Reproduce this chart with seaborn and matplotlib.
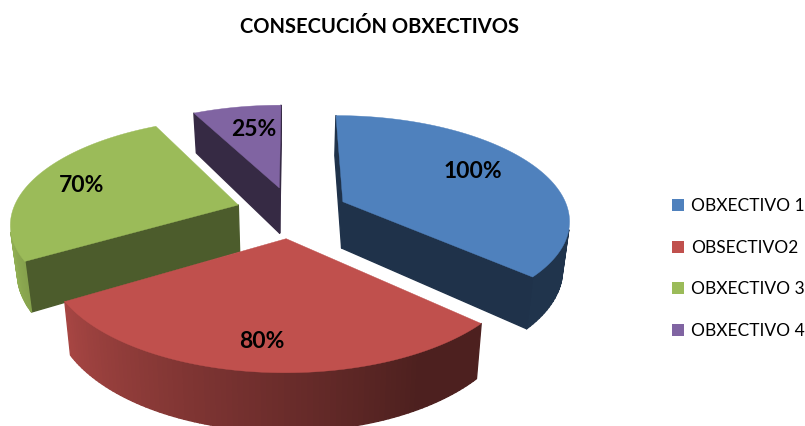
#!/usr/bin/env python3
# Exploded 3D pie drawn as projected polygons
import matplotlib
matplotlib.use('Agg')
import matplotlib.pyplot as plt
import numpy as np
import seaborn as sns
from matplotlib.collections import PolyCollection
from matplotlib.lines import Line2D

title = 'CONSECUCIÓN OBXECTIVOS'
categories = ['OBXECTIVO 1', 'OBSECTIVO2', 'OBXECTIVO 3', 'OBXECTIVO 4']
values = [100, 80, 70, 25]
colors = ['#4F81BD', '#C0504D', '#9BBB59', '#8064A2']

# projection, in pixels of the final image
cx, cy = 292, 212
rad_x, rad_y = 226, 103
persp = 0.16
depth = 47
bottom_shrink = 0.975
explode = 0.25
# the camera skews the slice edges a little, in degrees
edge_skew = [0, 1.5, 3.4, 5.7, 0]
# darkening of the flat cut faces of each slice
cut_shade = [0.39, 0.45, 0.49, 0.42]
label_pos = [(473, 171.5), (262, 341.5), (82, 185), (254, 129)]


def project(x, y, bottom=False):
    w = 1 + persp * y
    sx = rad_x * x / w
    sy = -rad_y * y / w
    if bottom:
        return cx + sx * bottom_shrink, cy + sy + depth / w
    return cx + sx, cy + sy


def wall_shade(theta):
    return np.interp(theta, [100, 150, 235, 270], [0.4, 0.4, 0.85, 1.0])


def shaded(color, factor):
    return tuple(np.array(matplotlib.colors.to_rgb(color)) * factor)


def signed_area(quad):
    q = np.array(quad)
    x, y = q[:, 0], q[:, 1]
    return 0.5 * np.sum(x * np.roll(y, -1) - np.roll(x, -1) * y)


def draw_slice(ax, start, stop, color, cut):
    mid = np.radians((start + stop) / 2)
    ox, oy = explode * np.sin(mid), explode * np.cos(mid)
    th = np.linspace(start, stop, 90)
    rx = ox + np.sin(np.radians(th))
    ry = oy + np.cos(np.radians(th))

    # ring of points around the wedge, clockwise seen from above
    ring_x = np.r_[ox, rx]
    ring_y = np.r_[oy, ry]
    top = [project(a, b) for a, b in zip(ring_x, ring_y)]
    low = [project(a, b, True) for a, b in zip(ring_x, ring_y)]

    polys, faces = [], []
    n = len(top)
    for i in range(n):
        j = (i + 1) % n
        quad = [top[i], top[j], low[j], low[i]]
        # keep only the faces turned to the viewer
        if signed_area(quad) >= 0:
            continue
        if i == 0 or j == 0:
            face = shaded(color, cut)
        else:
            face = shaded(color, wall_shade(th[i - 1]))
        polys.append(quad)
        faces.append(face)
    ax.add_collection(PolyCollection(polys, facecolors=faces, edgecolors=faces,
                                     linewidths=1.0))
    ax.fill(*zip(*top), color=color, lw=0.3)


if __name__ == '__main__':
    sns.set_theme(style='white')
    plt.rcParams['font.family'] = ['Lato', 'DejaVu Sans']

    f = plt.figure(figsize=(8.05, 4.26), dpi=100)
    ax = f.add_axes([0, 0, 1, 1])
    ax.set_xlim(0, 805)
    ax.set_ylim(426, 0)
    ax.axis('off')

    palette = sns.color_palette(colors)
    edges = np.r_[0, np.cumsum(values)] / sum(values) * 360 + edge_skew

    # back slices first
    for i in [3, 2, 0, 1]:
        draw_slice(ax, edges[i], edges[i + 1], palette[i], cut_shade[i])

    for v, pos in zip(values, label_pos):
        ax.text(pos[0], pos[1], f'{v}%', ha='center', va='center',
                fontsize=16.5, fontweight='bold', color='black')

    ax.text(379, 27, title, ha='center', va='center', fontsize=14.5,
            fontweight='bold', color='black')

    handles = [Line2D([], [], ls='none', marker='s', ms=8.5, mew=0, color=c)
               for c in palette]
    ax.legend(handles, categories, loc='center left',
              bbox_to_anchor=(661.5 / 805, 1 - 268.5 / 426), frameon=False,
              fontsize=12.5, labelspacing=1.47, handlelength=0.9,
              handletextpad=0.3, labelcolor='black', borderpad=0)

    plt.savefig('out.png', dpi=100)
